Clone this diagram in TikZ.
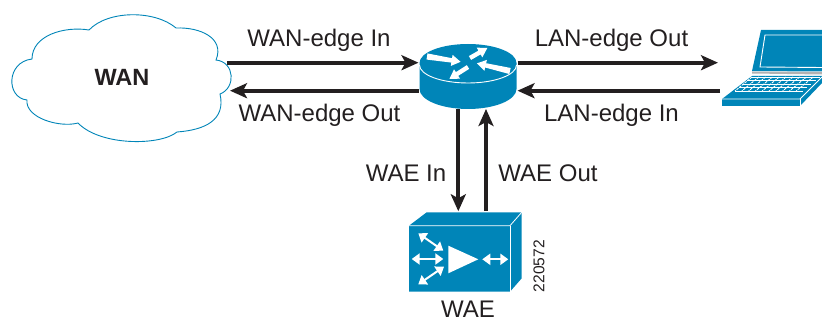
\documentclass[tikz,border=0pt]{standalone}
\usepackage{fontspec}
\setmainfont{Liberation Sans}
\usetikzlibrary{arrows.meta}
\definecolor{ciscoblue}{HTML}{0085B8}
\definecolor{inkc}{HTML}{231F20}
\tikzset{
  box/.style={inner sep=0pt,outer sep=0pt,draw=none},
  lab/.style={inner sep=0pt,anchor=base,text=inkc,font=\fontsize{24}{27}\selectfont},
  conn/.style={draw=inkc,line width=4pt,-{Stealth[length=17pt,width=15pt,inset=4pt]}},
  dbl/.style={draw=white,line width=2pt,{Triangle[length=8pt,width=11pt]}-{Triangle[length=8pt,width=11pt]}},
  keyline/.style={draw=white,line width=0.9pt}
}
\newcommand{\routerarrow}[5]{% x, y, paper angle, length, tail half width
  \fill[white,shift={(#1,#2)},rotate=#3]
    (0,#5) -- ({#4-9},2.2) -- ({#4-9},5.6) -- (#4,0) -- ({#4-9},-5.6) -- ({#4-9},-2.2) -- (0,-#5) -- cycle;}
\begin{document}
\begin{tikzpicture}[x=1pt,y=-1pt]
\useasboundingbox (0,0) rectangle (822,320);
% WAN cloud
\draw[draw=ciscoblue,line width=0.9pt,fill=white]
 (89,30) .. controls (108,10) and (155,10) .. (176,28)
 .. controls (200,27) and (225,38) .. (216,60)
 .. controls (235,62) and (236,88) .. (220,94)
 .. controls (226,120) and (205,130) .. (177,132)
 .. controls (160,146) and (100,146) .. (78,123)
 .. controls (60,128) and (25,118) .. (27,100)
 .. controls (6,98) and (6,62) .. (32,59)
 .. controls (32,35) and (65,26) .. (89,30) -- cycle;
\node[box,minimum width=215pt,minimum height=125pt] (wan) at (119.5,76.5) {};
\node[lab,font=\fontsize{23.5}{26}\selectfont\bfseries] (wantext) at (122,85.5) {WAN};
% Router
\fill[ciscoblue] (419.5,63) -- (419.5,89) arc[start angle=180,end angle=360,x radius=48.5pt,y radius=20pt] -- (516.5,63) arc[start angle=0,end angle=180,x radius=48.5pt,y radius=19pt] -- cycle;
\draw[white,line width=0.9pt] (419.5,65) arc[start angle=180,end angle=360,x radius=48.5pt,y radius=18pt];
\node[box,minimum width=99pt,minimum height=65pt] (router) at (468,76.5) {};
\routerarrow{427}{56.5}{-9}{34}{3.1}
\routerarrow{470}{58}{30}{20}{2.2}
\routerarrow{510}{71}{167}{34}{3.1}
\routerarrow{468}{67}{212.6}{22}{2.2}
% Laptop
\fill[ciscoblue] (761,30) -- (822,30) -- (822,71.5) -- (752,71) -- cycle;
\draw[white,line width=0.9pt] (822,35) -- (765,35) -- (760,67) -- (822,67.5);
\fill[gray!60] (752,71.5) -- (822,72) -- (822,74.5) -- (752,73.5) -- cycle;
\fill[ciscoblue] (752,76) -- (822,76) -- (822,83) -- (800,106) -- (722,106) -- (722,99) -- cycle;
\draw[white,line width=0.8pt] (722,99) -- (800,99) -- (822,77);
\draw[white,line width=0.8pt] (800,99) -- (800,106);
\foreach \yy/\xa/\xb in {77/752/820,80.5/747/816,84/743/811,87.5/739/807,91/735/803}
  \draw[keyline] (\xa,\yy) -- (\xb,\yy);
\foreach \k in {0,...,9}
  \draw[keyline,dash pattern=on 2.5pt off 1pt] ({752+\k*6.8},77) -- ({735+\k*6.8},91);
\node[box,minimum width=103pt,minimum height=76pt] (laptop) at (770.5,68) {};
% WAE
\fill[ciscoblue] (409,225.7) -- (426.7,212.3) -- (521.7,212.3) -- (521.7,278.3) -- (510,291.7) -- (409,291.7) -- cycle;
\draw[white,line width=0.8pt] (409,225.7) -- (510,225.7) -- (521.7,212.3);
\draw[white,line width=0.8pt] (510,225.7) -- (510,291.7);
\fill[white] (448.3,245.7) -- (478.3,259.3) -- (448.3,273.3) -- cycle;
\draw[dbl] (482.3,259.3) -- (508.3,259.3);
\draw[dbl] (411.7,259) -- (443.3,259);
\draw[dbl] (418.3,233.3) -- (443.3,250.7);
\draw[dbl] (418.3,284.3) -- (444,266.7);
\node[box,minimum width=113pt,minimum height=79.5pt] (wae) at (465.5,251) {};
\node[lab] (waetext) at (468,318) {WAE};
\node[inner sep=0pt,text=inkc,rotate=90,font=\fontsize{15.6}{18}\selectfont] (serial) at (539,266) {220572};
% Connectors
\draw[conn] ([yshift=13.8pt]wan.east) -- ([yshift=13.8pt]router.west);
\draw[conn] ([yshift=-14.2pt]router.west) -- ([yshift=-14.2pt,xshift=3pt]wan.east);
\draw[conn] ([yshift=13.8pt]router.east) -- ([yshift=5.3pt,xshift=-1pt]laptop.west);
\draw[conn] ([yshift=-22.7pt,xshift=1pt]laptop.west) -- ([yshift=-14.2pt]router.east);
\draw[conn] ([xshift=-9.7pt]router.south) -- ([xshift=-7.2pt]wae.north);
\draw[conn] ([xshift=20.5pt]wae.north) -- ([xshift=18pt]router.south);
% Labels
\node[lab] (l1) at (319,46.7) {WAN-edge In};
\node[lab] (l2) at (319.5,121.7) {WAN-edge Out};
\node[lab] (l3) at (611.5,46.7) {LAN-edge Out};
\node[lab] (l4) at (611.5,121.7) {LAN-edge In};
\node[lab] (l5) at (406,182) {WAE In};
\node[lab] (l6) at (548,182) {WAE Out};
\end{tikzpicture}
\end{document}
